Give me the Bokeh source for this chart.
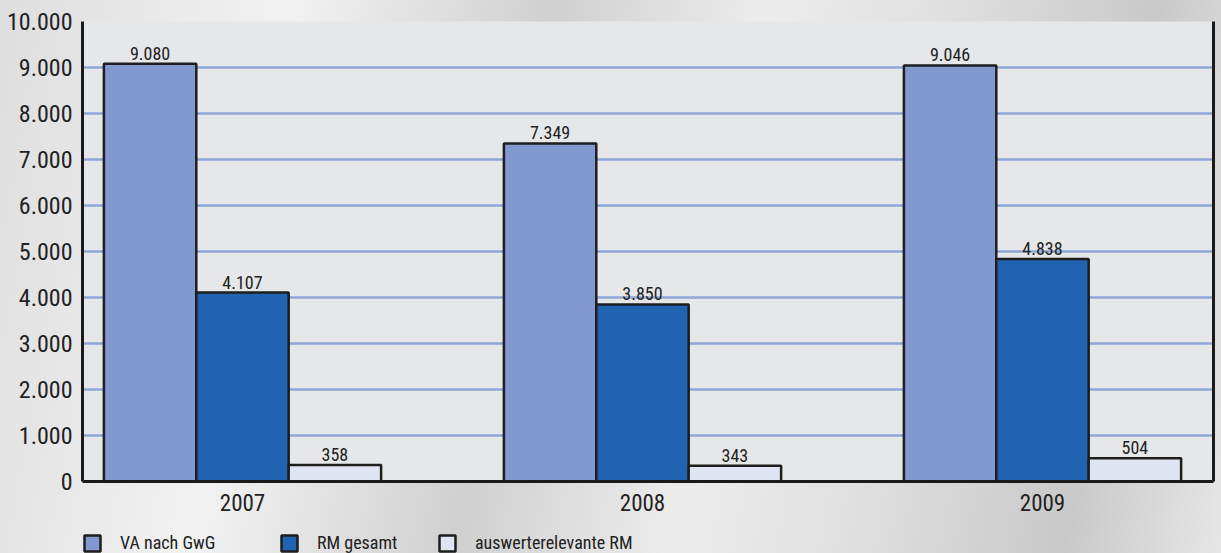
from bokeh.plotting import figure
from bokeh.layouts import column
from bokeh.models import (ColumnDataSource, Range1d, FixedTicker, LinearAxis,
                          Legend, LegendItem, LabelSet)
from bokeh.core.properties import value
from bokeh.transform import dodge
from bokeh.embed import file_html
from bokeh.resources import INLINE

years = ["2007", "2008", "2009"]
va_nach_gwg = [9080, 7349, 9046]
rm_gesamt = [4107, 3850, 4838]
auswerterelevante_rm = [358, 343, 504]
series_names = ["VA nach GwG", "RM gesamt", "auswerterelevante RM"]
y_ticks = [0, 1000, 2000, 3000, 4000, 5000, 6000, 7000, 8000, 9000, 10000]
y_tick_labels = ["0", "1.000", "2.000", "3.000", "4.000", "5.000",
                 "6.000", "7.000", "8.000", "9.000", "10.000"]

def de_fmt(v):
    return f"{v:,}".replace(",", ".")

FONT = "Roboto Condensed"
colors = ["#8199d0", "#2063b0", "#dfe5f3"]
offsets = [-0.231, 0.0, 0.231]
bar_w = 0.231

xs = list(range(len(years)))
src = ColumnDataSource(dict(
    x=xs,
    va=va_nach_gwg, rm=rm_gesamt, aus=auswerterelevante_rm,
    va_l=[de_fmt(v) for v in va_nach_gwg],
    rm_l=[de_fmt(v) for v in rm_gesamt],
    aus_l=[de_fmt(v) for v in auswerterelevante_rm],
))

p = figure(width=1221, height=530, output_backend="svg", toolbar_location=None,
           x_range=Range1d(-0.4, 2.4275), y_range=Range1d(0, 10000),
           min_border_left=82, min_border_right=8, min_border_top=21,
           min_border_bottom=49)
p.background_fill_color = "#e6e7e9"
p.border_fill_alpha = 0
p.outline_line_color = None

# grid
p.xgrid.grid_line_color = None
p.ygrid.ticker = FixedTicker(ticks=y_ticks)
p.ygrid.grid_line_color = "#8ea7d6"
p.ygrid.grid_line_width = 2.5

# axes
p.yaxis.ticker = FixedTicker(ticks=y_ticks)
p.yaxis.major_label_overrides = {t: l for t, l in zip(y_ticks, y_tick_labels)}
p.xaxis.ticker = FixedTicker(ticks=xs)
p.xaxis.major_label_overrides = {i: y for i, y in enumerate(years)}
for ax in (p.xaxis[0], p.yaxis[0]):
    ax.axis_line_color = "#1a1a1a"
    ax.axis_line_width = 3
    ax.major_tick_line_color = None
    ax.minor_tick_line_color = None
    ax.major_tick_out = 0
    ax.major_tick_in = 0
    ax.major_label_text_font = FONT
    ax.major_label_text_color = "#222222"
p.yaxis.major_label_text_font_size = "24px"
p.yaxis.major_label_standoff = 10
p.xaxis.major_label_text_font_size = "23px"
p.xaxis.major_label_standoff = 12

right = LinearAxis(ticker=FixedTicker(ticks=[]), axis_line_color="#1a1a1a",
                   axis_line_width=3, major_tick_line_color=None,
                   minor_tick_line_color=None, major_tick_out=0,
                   major_label_standoff=0, major_label_text_font_size="0px")
p.add_layout(right, "right")

for field, off, col in zip(["va", "rm", "aus"], offsets, colors):
    p.vbar(x=dodge("x", off, range=p.x_range), top=field, width=bar_w,
           source=src, fill_color=col, line_color="#1e1e1e", line_width=2.5)
    lbl = LabelSet(x=dodge("x", off, range=p.x_range), y=field, text=field + "_l",
                   source=src, text_align="center", text_baseline="bottom",
                   y_offset=4, text_font=value(FONT), text_font_size=value("18px"),
                   text_color=value("#222222"))
    p.add_layout(lbl)

# legend strip below the chart (its frame is aligned with the chart's frame)
lg = figure(width=1221, height=23, output_backend="svg", toolbar_location=None,
            x_range=Range1d(0, 1), y_range=Range1d(0, 1),
            x_axis_location=None, y_axis_location=None,
            min_border_left=0, min_border_right=0, min_border_top=0,
            min_border_bottom=0)
lg.grid.visible = False
lg.background_fill_alpha = 0
lg.border_fill_alpha = 0
lg.outline_line_color = None

nan = float("nan")
leg_x = [0, 197, 355]
for name, col, lx in zip(series_names, colors, leg_x):
    # swatch-only renderer (NaN position, so nothing is drawn in the strip)
    r = lg.vbar(x=[nan], top=[nan], width=0.01, fill_color=col,
                line_color="#1e1e1e", line_width=2.5)
    leg = Legend(items=[LegendItem(label=name, renderers=[r])],
                 location=(lx, 0), orientation="horizontal",
                 padding=0, margin=0, spacing=0,
                 glyph_width=20, glyph_height=20, label_standoff=18,
                 label_text_font=FONT, label_text_font_size="18px",
                 label_text_color="#222222", label_height=20,
                 border_line_color=None, background_fill_alpha=0)
    lg.add_layout(leg, "center")

layout = column(p, lg, spacing=0,
                styles={"background": "linear-gradient(100deg, #dedede 0%, #f2f2f2 22%, #d0d0d0 42%, #ececec 58%, #e2e2e2 70%, #c9c9c9 88%, #e6e6e6 100%)"})

open("out.html", "w").write(file_html(layout, INLINE))
